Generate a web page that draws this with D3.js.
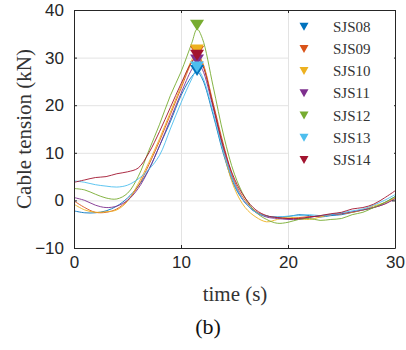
<!DOCTYPE html>
<html><head><meta charset="utf-8">
<script src="https://cdn.jsdelivr.net/npm/d3@7"></script>
<style>body{margin:0;background:#fff}svg{display:block}</style>
</head><body>
<svg id="c" width="406" height="350"></svg>
<script>
const times = [0,1,2,3,4,5,6,7,8,9,10,11,11.5,12,13,14,15,16,17,18,19,20,21,22,23,24,25,26,27,28,29,30];
const seriesNames = ["SJS08","SJS09","SJS10","SJS11","SJS12","SJS13","SJS14"];
const seriesColors = ["#0072BD","#D95319","#EDB120","#7E2F8E","#77AC30","#4DBEEE","#A2142F"];
const sjs08 = [-2.2,-2.6,-2.6,-2.2,-1.2,0.5,3,6.5,11.5,16.5,22,26,27,25.5,18,9.5,3,-0.5,-2.5,-3.3,-3.5,-3.4,-3,-3.2,-3.5,-3.2,-3,-2.5,-2,-1.5,-0.5,0.8];
const sjs09 = [-0.1,-1.5,-2.5,-2.5,-1.8,0,3,7.5,12.5,18,23.5,29,30.5,29,20.5,11.5,4,0,-2.3,-3.3,-3.6,-3.8,-3.6,-3.4,-3.3,-3,-2.8,-2.5,-2,-1.5,-0.8,0.5];
const sjs10 = [-0.8,-2,-2.5,-2.4,-2,-0.2,3.5,8,13,18.5,24,29.5,31,29,20,10,2.5,-1.5,-3.5,-4.5,-4,-3.5,-3.8,-4,-3.5,-3,-2.8,-2.5,-2,-1.2,-0.5,0.5];
const sjs11 = [0.6,0,-1,-1.5,-1.2,0,2.5,6.5,11.5,17,22.5,27.5,29,27.5,19.5,10.5,3.5,-0.5,-2.5,-3.5,-3.8,-4,-4,-3.6,-3.2,-3,-2.8,-2.4,-2,-1.5,-0.8,0.3];
const sjs12 = [2.5,2.2,1.3,0.5,0.3,1.5,5,10.5,16,22,27,33,36,34,24,13.5,5.5,0.5,-2.5,-4,-4.8,-4.6,-4,-3.8,-4.2,-4,-3.8,-3,-2.5,-1.5,-0.5,0.8];
const sjs13 = [4.1,3.8,3.3,3,2.8,3.2,4.5,6.5,9.5,15,20.5,25.5,27.5,26,18.5,10,3.5,-0.5,-2.5,-3.3,-3.5,-3.3,-3.2,-3,-3.2,-3,-2.6,-2.2,-1.8,-1,0,1.2];
const sjs14 = [3.8,4.3,4.8,5,5.6,6,6.8,10,14.5,19.5,24.5,29,30,28.5,20,11,4.5,0.5,-2,-3.2,-3.6,-3.8,-3.8,-3.5,-3.2,-2.8,-2.5,-1.8,-1.5,-0.8,0.5,2.0];
const peakTimes = [11.5,11.5,11.5,11.5,11.5,11.5,11.5];
const peakValues = [27.3,31.3,31.6,29.5,36.8,28.0,30.5];
const xTicks = [0,10,20,30];
const yTicks = [-10,0,10,20,30,40];
const allSeries = [sjs08,sjs09,sjs10,sjs11,sjs12,sjs13,sjs14];

const svg = d3.select("#c");
const x = d3.scaleLinear().domain([0,30]).range([74,395]);
const y = d3.scaleLinear().domain([-10,40]).range([248,10]);
const L=74,R=395,T=10,B=248;
const SERIF = "'Liberation Serif','Times New Roman',Times,serif";

// grid
const grid = svg.append("g");
grid.append("g").attr("transform",`translate(0,${B})`)
  .call(d3.axisBottom(x).tickValues(xTicks.slice(1,-1)).tickSize(-(B-T)).tickFormat(""))
  .call(g=>{g.select(".domain").remove();g.selectAll("line").attr("stroke","#e3e3e3");});
grid.append("g").attr("transform",`translate(${L},0)`)
  .call(d3.axisLeft(y).tickValues(yTicks.slice(1,-1)).tickSize(-(R-L)).tickFormat(""))
  .call(g=>{g.select(".domain").remove();g.selectAll("line").attr("stroke","#e3e3e3");});

// lines
const line = d3.line().x((d,i)=>x(times[i])).y(d=>y(d)).curve(d3.curveCatmullRom.alpha(0.5));
svg.append("g").attr("fill","none").attr("stroke-width",0.9)
  .selectAll("path").data(allSeries).join("path")
  .attr("stroke",(d,i)=>seriesColors[i]).attr("d",line);

// peak markers
const tri = (w,h)=>`M${-w/2},${-h/2}L${w/2},${-h/2}L0,${h/2}Z`;
svg.append("g").selectAll("path").data(peakValues).join("path")
  .attr("d",tri(14,11))
  .attr("transform",(d,i)=>`translate(${x(peakTimes[i])},${y(d)})`)
  .attr("fill",(d,i)=>seriesColors[i]);

// axes
const style = g=>{g.select(".domain").attr("stroke","#262626");g.selectAll(".tick line").attr("stroke","#262626");g.selectAll("text").attr("fill","#262626").attr("font-size",17).attr("font-family","'Liberation Sans',Arial,sans-serif");};
const ax = svg.append("g");
ax.append("g").attr("transform",`translate(0,${B})`)
  .call(d3.axisBottom(x).tickValues(xTicks).tickSizeInner(-3).tickSizeOuter(0).tickPadding(8)).call(style);
ax.append("g").attr("transform",`translate(0,${T})`)
  .call(d3.axisTop(x).tickValues(xTicks).tickSizeInner(-3).tickSizeOuter(0).tickFormat("")).call(style);
ax.append("g").attr("transform",`translate(${L},0)`)
  .call(d3.axisLeft(y).tickValues(yTicks).tickSizeInner(-3).tickSizeOuter(0).tickPadding(10)).call(style);
ax.append("g").attr("transform",`translate(${R},0)`)
  .call(d3.axisRight(y).tickValues(yTicks).tickSizeInner(-3).tickSizeOuter(0).tickFormat("")).call(style);

// legend
const lg = svg.append("g");
lg.append("rect").attr("x",289).attr("y",11).attr("width",105).attr("height",161).attr("fill","#fff");
const items = lg.selectAll("g.it").data(seriesNames).join("g").attr("class","it")
  .attr("transform",(d,i)=>`translate(0,${26.7+i*22.2})`);
items.append("path").attr("d",tri(9,8)).attr("transform","translate(304,0)").attr("fill",(d,i)=>seriesColors[i]);
items.append("text").attr("x",333).attr("y",5).text(d=>d)
  .style("font-family",SERIF).attr("font-size",15).attr("fill","#333");

// labels
svg.append("text").attr("transform","translate(31,129) rotate(-90)").attr("text-anchor","middle")
  .style("font-family",SERIF).attr("font-size",21).attr("fill","#333")
  .text("Cable tension (kN)");
svg.append("text").attr("x",235).attr("y",301).attr("text-anchor","middle")
  .style("font-family",SERIF).attr("font-size",21).attr("fill","#333")
  .text("time (s)");
svg.append("text").attr("x",208).attr("y",334).attr("text-anchor","middle")
  .style("font-family",SERIF).attr("font-size",22).attr("fill","#111")
  .text("(b)");
</script>
</body></html>
